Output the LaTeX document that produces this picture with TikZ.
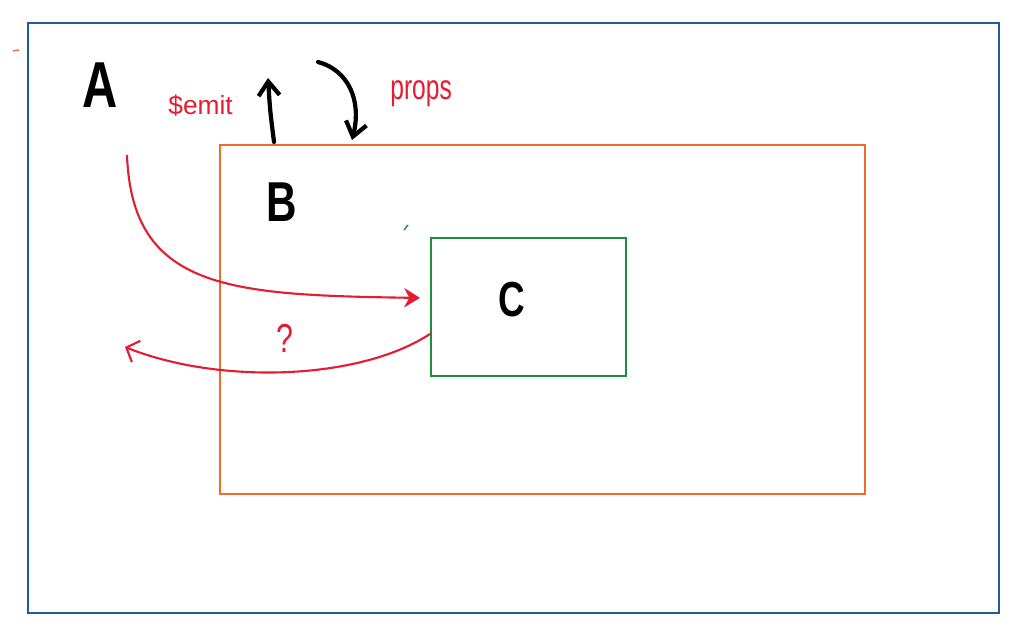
\documentclass[tikz,border=0pt]{standalone}
\usepackage{fontspec}
\setmainfont{Liberation Sans}
\newfontfamily\hand[FakeStretch=0.75]{Liberation Sans}
\newfontfamily\pen[FakeStretch=0.7]{Liberation Sans}
\usetikzlibrary{arrows.meta,calc}
\definecolor{frameblue}{RGB}{31,92,158}
\definecolor{boxorange}{RGB}{238,108,40}
\definecolor{boxgreen}{RGB}{30,142,62}
\definecolor{inkred}{RGB}{228,28,48}
\begin{document}
\begin{tikzpicture}[x=0.02cm, y=-0.02cm,
    box/.style={draw, line width=1.1pt, inner sep=0pt, anchor=north west},
    letter/.style={inner sep=0pt, text=black},
    note/.style={inner sep=0pt, text=inkred},
    flow/.style={inkred, line width=1.2pt},
    pass/.style={black, line width=2.4pt, line cap=round}]
    \useasboundingbox (0,0) rectangle (1024,634);

    % 1. Khung A, B, C
    \node[box, draw=frameblue, minimum width=19.42cm, minimum height=11.8cm] (boxA) at (27,22) {};
    \node[box, draw=boxorange, minimum width=12.9cm, minimum height=6.98cm] (boxB) at (219,144) {};
    \node[box, draw=boxgreen, minimum width=3.9cm, minimum height=2.76cm] (boxC) at (430,237) {};

    % 2. Ten cac khung
    \node[letter, font=\hand\bfseries\fontsize{37}{40}\selectfont] (A) at (100,85) {A};
    \node[letter, font=\hand\bfseries\fontsize{32}{36}\selectfont] (B) at (282,202) {B};
    \node[letter, font=\hand\bfseries\fontsize{28}{32}\selectfont] (C) at (512,300) {C};

    % 3. Nhan mau do
    \node[note, anchor=base west, font=\fontsize{15}{18}\selectfont] (emit) at (168,115) {\$emit};
    \node[note, anchor=base west, font=\pen\fontsize{20}{24}\selectfont] (props) at (390,100) {props};
    \node[note, font=\hand\fontsize{23}{26}\selectfont] (ask) at (285,338) {?};

    % 4. Mui ten B <-> A
    \coordinate (down0) at (318,62);
    \draw[pass, -{Straight Barb[length=8pt,width=12pt]}]
        ($(boxB.north west)+(55,-2)$) .. controls (270,110) .. (268,78);
    \draw[pass, -{Straight Barb[length=8pt,width=12pt]}]
        (down0) .. controls (348,70) and (362,100) .. ($(boxB.north west)+(133,-4)$);

    % 5. Mui ten A -> C va C -> ?
    \coordinate (a0) at (127,155);
    \coordinate (out) at (125,347);
    \draw[flow, -{Stealth[length=9pt,width=11pt]}]
        (a0) .. controls (132,290) and (230,295) .. ($(boxC.west)+(-10,-9)$);
    \draw[flow, -{Straight Barb[length=6pt,width=13pt]}]
        ($(boxC.west)+(0,27)$) .. controls (360,380) and (220,385) .. (out);

    % 6. Vet but nho
    \draw[boxorange, line width=0.8pt] (13,51) -- (19,50);
    \draw[boxgreen, line width=0.8pt] (404,230) -- (408,225);
\end{tikzpicture}
\end{document}
